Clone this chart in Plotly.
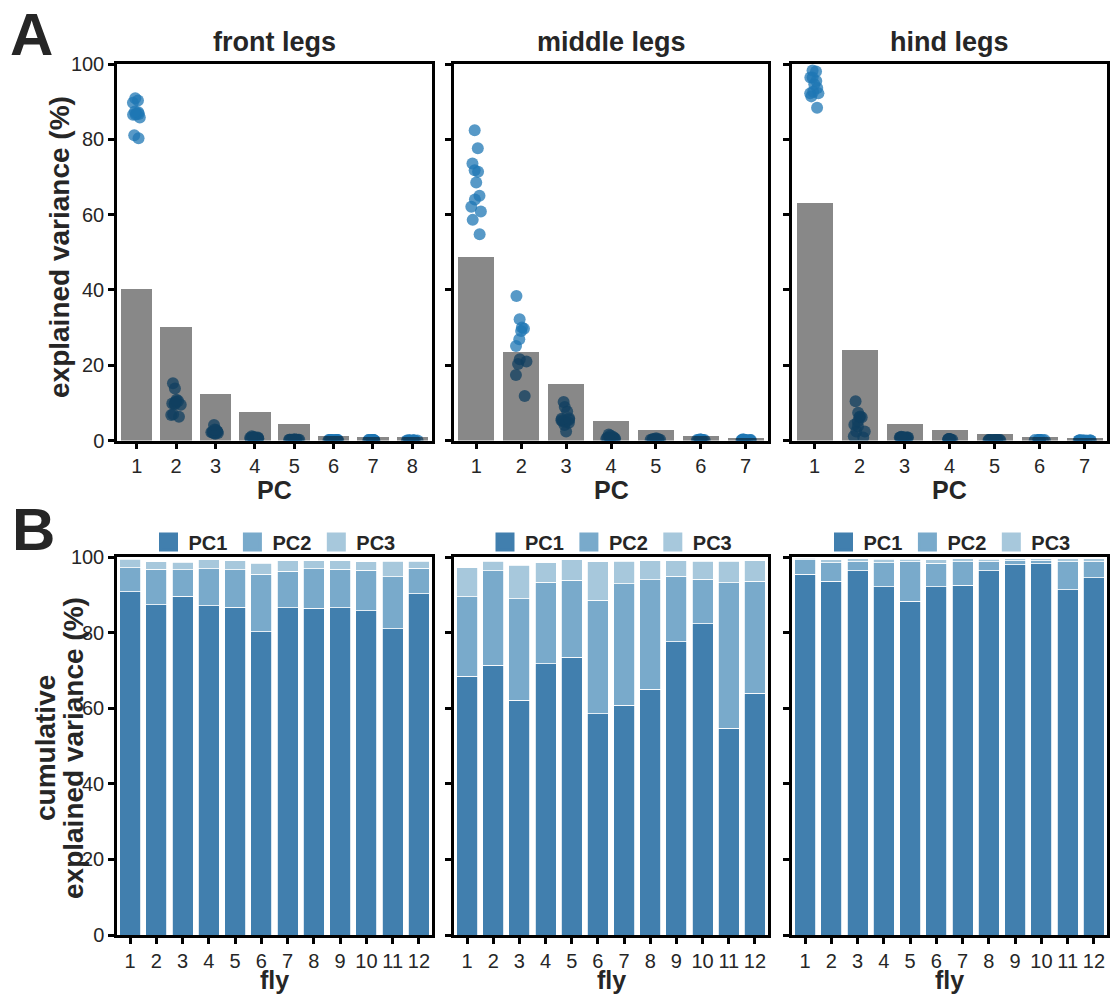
import plotly.graph_objects as go

# ---------------- data ----------------
flies = list(range(1, 13))
pcs_front = [1, 2, 3, 4, 5, 6, 7, 8]
pcs_middle = [1, 2, 3, 4, 5, 6, 7]
pcs_hind = [1, 2, 3, 4, 5, 6, 7]

# pooled explained variance (bars, panel A)
front_bar = [40.2, 30.1, 12.4, 7.5, 4.5, 1.3, 0.9, 0.9]
middle_bar = [48.7, 23.5, 15.1, 5.3, 2.8, 1.3, 0.7]
hind_bar = [63.2, 24.0, 4.5, 2.7, 1.8, 1.0, 0.6]

# per-fly explained variance (%) per PC
front_pc1 = [90.9, 87.4, 89.7, 87.2, 86.8, 80.3, 86.7, 86.5, 86.6, 85.8, 81.1, 90.3]
front_pc2 = [6.3, 9.5, 7.0, 9.8, 9.9, 15.2, 9.6, 10.5, 10.3, 10.8, 13.8, 6.8]
front_pc3 = [2.3, 1.9, 2.0, 2.3, 2.4, 2.9, 2.8, 2.1, 2.2, 2.2, 4.1, 1.8]
front_pc4 = [0.3, 0.8, 0.9, 0.4, 0.6, 1.1, 0.5, 0.5, 0.6, 0.8, 0.6, 0.7]
front_pc5 = [0.1, 0.2, 0.2, 0.2, 0.2, 0.3, 0.2, 0.2, 0.2, 0.2, 0.2, 0.2]
front_pc6 = [0.1, 0.1, 0.1, 0.1, 0.1, 0.1, 0.1, 0.1, 0.1, 0.1, 0.1, 0.1]
front_pc7 = [0.0, 0.1, 0.1, 0.0, 0.0, 0.1, 0.1, 0.1, 0.0, 0.1, 0.1, 0.1]
front_pc8 = [0.0, 0.0, 0.0, 0.0, 0.0, 0.0, 0.0, 0.0, 0.0, 0.0, 0.0, 0.0]

middle_pc1 = [68.5, 71.4, 62.1, 71.8, 73.6, 58.6, 60.8, 65.0, 77.6, 82.4, 54.8, 64.0]
middle_pc2 = [21.0, 25.1, 26.9, 21.6, 20.3, 30.0, 32.2, 29.1, 17.4, 11.8, 38.4, 29.7]
middle_pc3 = [7.7, 2.4, 8.9, 5.1, 5.5, 10.2, 5.9, 5.0, 4.1, 4.7, 5.8, 5.4]
middle_pc4 = [1.6, 0.7, 1.3, 0.9, 0.4, 0.8, 0.7, 0.6, 0.5, 0.6, 0.5, 0.5]
middle_pc5 = [0.6, 0.2, 0.4, 0.3, 0.1, 0.2, 0.2, 0.2, 0.2, 0.3, 0.3, 0.2]
middle_pc6 = [0.3, 0.1, 0.2, 0.2, 0.1, 0.1, 0.1, 0.1, 0.1, 0.1, 0.1, 0.1]
middle_pc7 = [0.3, 0.1, 0.2, 0.1, 0.0, 0.1, 0.1, 0.0, 0.1, 0.1, 0.1, 0.1]

hind_pc1 = [95.5, 93.6, 96.4, 92.2, 88.4, 92.2, 92.6, 96.4, 98.0, 98.3, 91.4, 94.6]
hind_pc2 = [3.8, 5.0, 2.4, 6.4, 10.4, 6.2, 6.2, 2.4, 1.1, 0.8, 7.4, 4.2]
hind_pc3 = [0.4, 0.8, 0.8, 0.9, 0.7, 1.0, 0.8, 0.7, 0.5, 0.5, 0.8, 0.8]
hind_pc4 = [0.2, 0.4, 0.2, 0.3, 0.3, 0.4, 0.2, 0.3, 0.2, 0.2, 0.2, 0.2]
hind_pc5 = [0.1, 0.1, 0.1, 0.1, 0.1, 0.1, 0.1, 0.1, 0.1, 0.1, 0.1, 0.1]
hind_pc6 = [0.0, 0.1, 0.1, 0.1, 0.1, 0.1, 0.0, 0.1, 0.1, 0.1, 0.1, 0.1]
hind_pc7 = [0.0, 0.0, 0.0, 0.0, 0.0, 0.0, 0.0, 0.0, 0.0, 0.0, 0.0, 0.0]

titles = ["front legs", "middle legs", "hind legs"]
legend_names = ["PC1", "PC2", "PC3"]
pc_colors = ["#417fae", "#79aacb", "#a7c8dc"]

# --------------- styling ---------------
FONT = "Liberation Sans, Arial, Helvetica, sans-serif"
TXT = "#262626"
W, H = 1111, 997

def fx(px):
    return px / W

def fy(py):
    return 1 - py / H

xdomA = [[117, 432], [454, 768], [792, 1107]]
ydomA = [64, 440.5]
ydomB = [557.3, 935]

fig = go.Figure()

legs = [
    (pcs_front, front_bar, [front_pc1, front_pc2, front_pc3, front_pc4, front_pc5, front_pc6, front_pc7, front_pc8]),
    (pcs_middle, middle_bar, [middle_pc1, middle_pc2, middle_pc3, middle_pc4, middle_pc5, middle_pc6, middle_pc7]),
    (pcs_hind, hind_bar, [hind_pc1, hind_pc2, hind_pc3, hind_pc4, hind_pc5, hind_pc6, hind_pc7]),
]

axis_common = dict(
    showline=True, mirror=True, linecolor="black", linewidth=2.5,
    ticks="outside", ticklen=6, tickwidth=2.5, tickcolor="black",
    showgrid=False, zeroline=False, automargin=False,
    tickfont=dict(family=FONT, size=20, color=TXT),
)

def xkey(a):
    return "xaxis" if a == "x" else "xaxis" + a[1:]

def ykey(a):
    return "yaxis" if a == "y" else "yaxis" + a[1:]

layout = {}
for i, (pcs, bars, perfly) in enumerate(legs):
    n = i + 1
    xa = "x" if n == 1 else f"x{n}"
    ya = "y" if n == 1 else f"y{n}"
    xo, yo = f"x{n + 6}", f"y{n + 6}"
    xb, yb = f"x{n + 3}", f"y{n + 3}"

    xs, ys = [], []
    for pc, vals in zip(pcs, perfly):
        xs += [pc] * len(vals)
        ys += vals
    fig.add_trace(go.Box(
        x=xs, y=ys, xaxis=xa, yaxis=ya,
        boxpoints="all", jitter=0.55, pointpos=0, width=0.5,
        fillcolor="rgba(0,0,0,0)", line=dict(width=0, color="rgba(0,0,0,0)"),
        marker=dict(color="#1f77b4", opacity=0.75, size=12, line=dict(width=0)),
        showlegend=False, hoverinfo="y",
    ))
    fig.add_trace(go.Bar(
        x=pcs, y=bars, xaxis=xo, yaxis=yo, width=0.8,
        marker=dict(color="rgba(0,0,0,0.467)", line=dict(width=0)),
        showlegend=False,
    ))

    leg_id = "legend" if n == 1 else f"legend{n}"
    for k in range(3):
        fig.add_trace(go.Bar(
            x=flies, y=perfly[k], xaxis=xb, yaxis=yb, width=0.8,
            marker=dict(color=pc_colors[k], line=dict(color="white", width=0.8)),
            name=legend_names[k], showlegend=False, legend=leg_id,
        ))
        fig.add_trace(go.Scatter(
            x=[None], y=[None], xaxis=xb, yaxis=yb, mode="markers",
            marker=dict(symbol="square", size=16, color=pc_colors[k],
                        line=dict(color=pc_colors[k], width=3)),
            name=legend_names[k], legend=leg_id, showlegend=True,
        ))

    d = [fx(xdomA[i][0]), fx(xdomA[i][1])]
    layout[xkey(xa)] = dict(axis_common, domain=d, range=[0.5, len(pcs) + 0.5],
                            tickvals=pcs, anchor=ya)
    layout[ykey(ya)] = dict(axis_common, domain=[fy(ydomA[1]), fy(ydomA[0])],
                            range=[0, 100], tickvals=[0, 20, 40, 60, 80, 100],
                            showticklabels=(n == 1), anchor=xa)
    layout[xkey(xo)] = dict(overlaying=xa, range=[0.5, len(pcs) + 0.5], visible=False,
                            automargin=False)
    layout[ykey(yo)] = dict(overlaying=ya, range=[0, 100], visible=False,
                            automargin=False)
    layout[xkey(xb)] = dict(axis_common, domain=d, range=[0.5, 12.5],
                            tickvals=flies, anchor=yb)
    layout[ykey(yb)] = dict(axis_common, domain=[fy(ydomB[1]), fy(ydomB[0])],
                            range=[0, 100], tickvals=[0, 20, 40, 60, 80, 100],
                            showticklabels=(n == 1), anchor=xb)
    layout[leg_id] = dict(
        orientation="h", x=(d[0] + d[1]) / 2, xanchor="center",
        y=fy(542), yanchor="middle", bgcolor="rgba(0,0,0,0)",
        font=dict(family=FONT, size=20, color=TXT, weight="bold"),
        itemsizing="trace", itemclick=False, traceorder="normal",
    )

fig.update_layout(**layout)

ann = []
def A(text, x, y, size, angle=0, xanchor="center"):
    ann.append(dict(text=text, x=x, y=y, xref="paper", yref="paper",
                    showarrow=False, textangle=angle, xanchor=xanchor, yanchor="middle",
                    font=dict(family=FONT, size=size, color=TXT, weight="bold")))

A("A", fx(8), fy(34), 60, xanchor="left")
A("B", fx(10), fy(529), 60, xanchor="left")
for i, t in enumerate(titles):
    cx = fx((xdomA[i][0] + xdomA[i][1]) / 2)
    A(t, cx, fy(42), 27)
    A("PC", cx, fy(490), 25)
    A("fly", cx, fy(980), 25)
A("explained variance (%)", fx(60), fy(247), 28, angle=-90)
A("cumulative", fx(45), fy(748), 28, angle=-90)
A("explained variance (%)", fx(73), fy(748), 28, angle=-90)

fig.update_layout(
    width=W, height=H, margin=dict(l=0, r=0, t=0, b=0, autoexpand=False),
    paper_bgcolor="white", plot_bgcolor="white",
    barmode="stack", annotations=ann,
    font=dict(family=FONT, color=TXT),
)

fig.write_html("out.html")
